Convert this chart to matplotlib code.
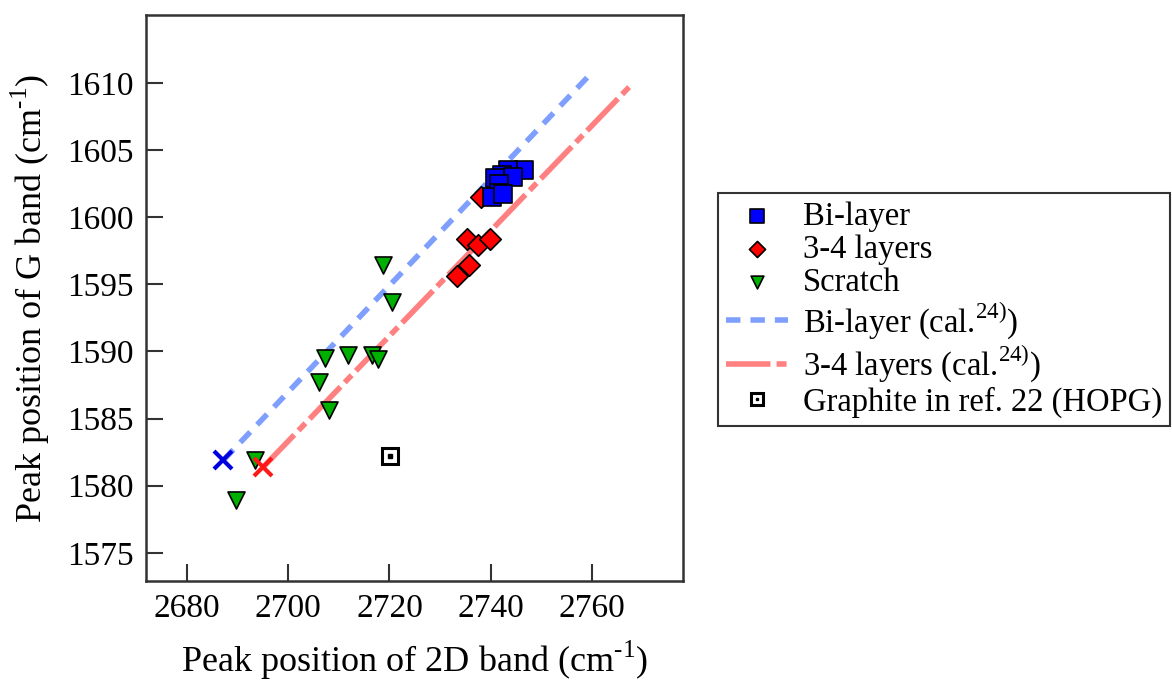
import numpy as np
import matplotlib
matplotlib.use("Agg")
import matplotlib.pyplot as plt
from matplotlib.legend_handler import HandlerTuple

plt.rcParams['font.family'] = ['Liberation Serif', 'DejaVu Serif']
plt.rcParams['mathtext.fontset'] = 'custom'
plt.rcParams['mathtext.rm'] = 'Liberation Serif'

# measured points (2D band, G band)
bi_x = [2746.5, 2743.5, 2742.2, 2744.4, 2740.9, 2741.6, 2741.6, 2740.2, 2742.5]
bi_y = [1603.5, 1603.5, 1603.15, 1603.0, 1602.9, 1602.5, 1601.8, 1601.5, 1601.7]

tl_x = [2738.0, 2735.3, 2737.4, 2739.9, 2735.8, 2733.3]
tl_y = [1601.5, 1598.35, 1597.95, 1598.4, 1596.4, 1595.6]

sc_x = [2718.7, 2720.6, 2707.3, 2711.8, 2716.5, 2717.7, 2706.0, 2708.1, 2693.4, 2689.7]
sc_y = [1596.45, 1593.7, 1589.5, 1589.7, 1589.75, 1589.4, 1587.75, 1585.6, 1581.9, 1578.95]

# calculated lines (start, end)
bi_cal_x = [2687.2, 2759.6]
bi_cal_y = [1581.9, 1610.6]
tl_cal_x = [2695.1, 2767.9]
tl_cal_y = [1581.4, 1609.9]

hopg_x = [2720.1]
hopg_y = [1582.2]

labels = ["Bi-layer", "3-4 layers", "Scratch",
          "Bi-layer (cal.$^{\\text{24)}}$)",
          "3-4 layers (cal.$^{\\text{24)}}$)",
          "Graphite in ref. 22 (HOPG)"]

fig = plt.figure(figsize=(11.72, 6.83), dpi=100)
ax = fig.add_axes([146/1172, 1-581/683, (683-146)/1172, (581-15)/683])

l_bi, = ax.plot(bi_cal_x, bi_cal_y, color="#7f9fff", lw=4, dashes=(2.6, 1.8), zorder=2)
l_tl, = ax.plot(tl_cal_x, tl_cal_y, color="#ff8080", lw=4, dashes=(8, 1.1, 1.8, 1.1), zorder=2)
ax.plot(bi_cal_x[0], bi_cal_y[0], "x", color="#0000dd", ms=13, mew=3, zorder=6)
ax.plot(tl_cal_x[0], tl_cal_y[0], "x", color="#ff1a1a", ms=13, mew=3, zorder=6)

s_sc = ax.scatter(sc_x, sc_y, marker="v", s=150, c="#00b000", edgecolors="black", linewidths=1.2, zorder=3)
s_tl = ax.scatter(tl_x, tl_y, marker="D", s=120, c="#ff0000", edgecolors="black", linewidths=1.2, zorder=4)
s_bi = ax.scatter(bi_x, bi_y, marker="s", s=170, c="#0000ff", edgecolors="black", linewidths=1.2, zorder=5)

h_sq, = ax.plot(hopg_x, hopg_y, "s", ms=11, mfc="white", mec="black", mew=2.2, zorder=4)
h_dot, = ax.plot(hopg_x, hopg_y, "s", ms=2.5, mfc="black", mec="black", zorder=5)

ax.set_xlim(2671.9, 2778)
ax.set_ylim(1572.9, 1615.05)
ax.set_xticks([2680, 2700, 2720, 2740, 2760])
ax.set_yticks([1575, 1580, 1585, 1590, 1595, 1600, 1605, 1610])
ax.tick_params(direction="in", length=12, width=1.5, color="#333333", labelsize=24, pad=9)
for sp in ax.spines.values():
    sp.set_linewidth(1.8)
    sp.set_color("#333333")

ax.set_xlabel("Peak position of 2D band (cm$^{\\text{-1}}$)", fontsize=26, labelpad=11)
ax.set_ylabel("Peak position of G band (cm$^{\\text{-1}}$)", fontsize=26, labelpad=11)

leg = fig.legend(
    [s_bi, s_tl, s_sc, l_bi, l_tl, (h_sq, h_dot)], labels,
    handler_map={tuple: HandlerTuple(ndivide=1, pad=0)},
    loc="upper left", bbox_to_anchor=(718/1172, 1-193/683), borderaxespad=0,
    fontsize=23.5, fancybox=False, framealpha=1, edgecolor="#333333",
    handlelength=1.9, labelspacing=0.08, markerscale=0.75, borderpad=0.25,
    handletextpad=0.45,
)
leg.get_frame().set_linewidth(1.5)

fig.savefig("out.png", dpi=100)
